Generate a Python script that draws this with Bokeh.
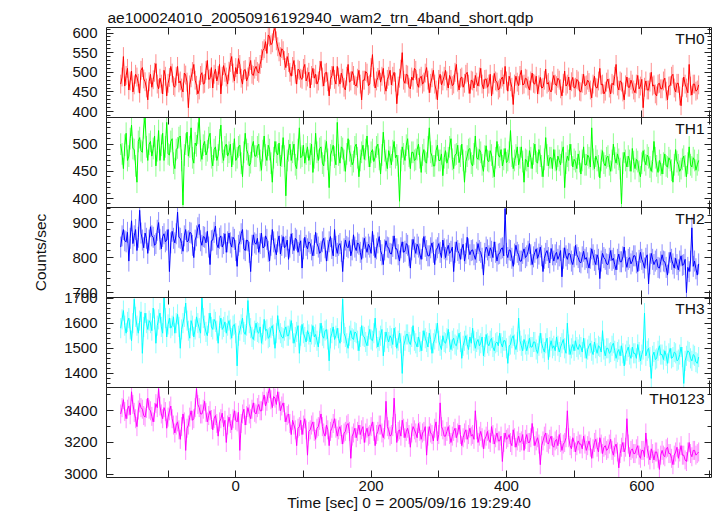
import numpy as np
from bokeh.plotting import figure
from bokeh.layouts import column
from bokeh.models import Range1d, SingleIntervalTicker, FixedTicker, LinearAxis, Label
from bokeh.embed import file_html
from bokeh.resources import INLINE

# ---------------- data (2 s bins) ----------------
bin_start = -170.0
bin_width = 2.0

th0 = [
    470, 488, 540, 465, 492, 510, 455, 478, 503, 450, 468, 495, 488, 472, 447, 505, 512, 483, 476, 460,
    430, 476, 495, 462, 481, 500, 522, 470, 458, 485, 470, 445, 505, 490, 440, 472, 487, 515, 498, 466,
    462, 490, 515, 473, 478, 460, 450, 498, 493, 475, 410, 468, 486, 502, 520, 480, 467, 445, 455, 492,
    499, 470, 472, 505, 530, 482, 484, 512, 460, 495, 508, 478, 492, 520, 445, 490, 517, 500, 488, 470,
    503, 525, 540, 498, 478, 512, 496, 535, 520, 485, 470, 505, 507, 478, 488, 515, 530, 495, 492, 508,
    515, 502, 498, 520, 535, 555, 560, 578, 548, 595, 590, 570, 575, 605, 612, 580, 565, 552, 540, 560,
    555, 530, 512, 540, 525, 500, 490, 515, 530, 495, 470, 508, 505, 485, 482, 510, 520, 478, 488, 500,
    460, 492, 510, 485, 495, 470, 478, 505, 528, 488, 465, 498, 500, 476, 440, 482, 492, 515, 482, 470,
    515, 488, 470, 498, 485, 462, 455, 490, 520, 475, 478, 502, 492, 468, 465, 485, 505, 470, 430, 480,
    480, 502, 498, 466, 470, 512, 545, 488, 460, 478, 487, 505, 475, 490, 510, 468, 452, 482, 490, 505,
    468, 490, 500, 475, 420, 465, 485, 508, 550, 480, 472, 495, 493, 462, 458, 488, 480, 510, 505, 472,
    462, 485, 490, 470, 475, 498, 512, 480, 448, 472, 486, 505, 470, 455, 430, 482, 495, 468, 478, 490,
    505, 478, 460, 492, 482, 466, 470, 500, 520, 475, 455, 485, 488, 462, 472, 495, 500, 470, 446, 480,
    478, 460, 492, 475, 465, 488, 510, 470, 458, 482, 483, 462, 470, 495, 440, 468, 497, 478, 475, 455,
    460, 482, 488, 470, 515, 478, 452, 490, 476, 462, 418, 470, 490, 475, 466, 492, 505, 468, 470, 485,
    483, 465, 455, 478, 498, 472, 470, 490, 445, 468, 487, 460, 462, 480, 508, 470, 474, 455, 450, 478,
    492, 470, 466, 485, 480, 458, 440, 472, 503, 465, 470, 488, 455, 476, 487, 460, 462, 482, 478, 452,
    450, 472, 495, 466, 468, 480, 474, 455, 435, 470, 490, 462, 460, 478, 510, 468, 470, 445, 452, 475,
    483, 460, 445, 472, 468, 490, 520, 465, 455, 478, 475, 450, 430, 468, 488, 462, 462, 480, 470, 455,
    448, 470, 492, 458, 465, 482, 410, 462, 478, 455, 455, 475, 500, 465, 468, 445, 440, 470, 472, 458,
    458, 478, 485, 452, 430, 465, 466, 490, 495, 460, 450, 472, 472, 440, 415, 462, 488, 470, 460, 448,
    520, 465, 442, 470, 470, 452, 455, 468,
]

th1 = [
    500, 482, 455, 498, 520, 470, 478, 510, 535, 492, 490, 460, 430, 505, 512, 488, 485, 530, 549, 495,
    470, 500, 505, 478, 492, 515, 460, 488, 525, 470, 498, 520, 470, 495, 540, 482, 480, 505, 510, 465,
    455, 490, 493, 512, 515, 470, 388, 480, 500, 522, 478, 495, 530, 475, 465, 502, 497, 520, 549, 488,
    472, 498, 505, 480, 488, 512, 520, 475, 460, 490, 495, 470, 480, 508, 535, 485, 470, 495, 500, 478,
    485, 500, 458, 482, 510, 470, 475, 495, 498, 465, 440, 485, 520, 490, 482, 460, 466, 495, 505, 478,
    478, 495, 500, 470, 452, 488, 515, 480, 470, 498, 490, 465, 430, 475, 505, 485, 480, 502, 460, 478,
    512, 478, 405, 470, 488, 500, 470, 485, 500, 462, 455, 490, 530, 475, 478, 498, 465, 482, 495, 470,
    482, 500, 448, 475, 520, 485, 470, 492, 495, 465, 460, 488, 505, 472, 420, 480, 488, 498, 476, 462,
    540, 480, 465, 495, 492, 470, 450, 482, 510, 488, 478, 462, 468, 495, 500, 475, 440, 470, 485, 498,
    472, 490, 515, 478, 458, 485, 490, 468, 476, 495, 500, 472, 445, 480, 522, 488, 470, 455, 488, 476,
    462, 488, 505, 475, 480, 460, 395, 470, 495, 482, 470, 498, 510, 478, 455, 485, 485, 470, 472, 490,
    500, 475, 448, 480, 490, 468, 465, 495, 530, 485, 478, 460, 460, 488, 498, 470, 470, 482, 442, 475,
    488, 465, 475, 495, 510, 472, 455, 480, 482, 498, 466, 478, 500, 470, 430, 468, 478, 490, 492, 465,
    460, 482, 515, 475, 472, 490, 485, 462, 450, 478, 497, 470, 468, 488, 480, 458, 440, 475, 505, 480,
    476, 490, 460, 472, 492, 466, 470, 485, 525, 478, 455, 470, 480, 495, 462, 475, 495, 468, 430, 472,
    470, 458, 488, 475, 455, 482, 500, 468, 465, 490, 478, 460, 440, 472, 512, 480, 460, 475, 475, 455,
    490, 470, 452, 478, 470, 462, 485, 495, 420, 465, 478, 470, 500, 480, 458, 472, 468, 455, 482, 468,
    445, 470, 495, 462, 462, 480, 475, 458, 530, 472, 455, 478, 470, 460, 438, 470, 488, 465, 460, 475,
    478, 462, 450, 470, 500, 475, 465, 482, 472, 455, 390, 465, 485, 470, 458, 478, 470, 450, 492, 468,
    455, 472, 468, 450, 440, 465, 488, 470, 462, 480, 475, 458, 450, 468, 505, 475, 460, 448, 470, 462,
    445, 465, 482, 460, 458, 475, 470, 452, 430, 462, 490, 468, 462, 450, 455, 472, 478, 460, 440, 465,
    495, 462, 458, 475, 470, 452, 462, 470,
]

th2 = [
    830, 862, 880, 848, 845, 872, 790, 855, 905, 840, 862, 880, 820, 858, 935, 870, 850, 828, 870, 855,
    812, 850, 888, 862, 858, 835, 840, 878, 900, 852, 825, 860, 868, 845, 850, 880, 760, 842, 875, 855,
    842, 868, 930, 858, 855, 840, 818, 862, 880, 845, 848, 872, 870, 835, 800, 850, 862, 885, 895, 848,
    835, 860, 858, 842, 875, 830, 780, 848, 850, 872, 890, 838, 828, 855, 862, 830, 840, 868, 815, 845,
    870, 842, 830, 858, 852, 820, 775, 835, 845, 868, 880, 825, 820, 850, 848, 815, 760, 835, 865, 842,
    838, 855, 815, 840, 870, 828, 830, 862, 852, 818, 790, 835, 880, 845, 825, 808, 845, 862, 810, 835,
    860, 828, 832, 850, 795, 830, 868, 840, 820, 855, 850, 815, 835, 848, 770, 825, 858, 835, 825, 845,
    840, 822, 805, 835, 872, 840, 830, 812, 818, 845, 855, 828, 790, 820, 845, 860, 826, 805, 880, 832,
    812, 835, 840, 818, 760, 825, 850, 832, 828, 848, 805, 822, 865, 830, 820, 842, 838, 815, 795, 828,
    855, 830, 815, 838, 830, 812, 875, 835, 800, 825, 842, 860, 820, 808, 780, 822, 848, 830, 828, 812,
    810, 832, 862, 825, 825, 808, 790, 828, 845, 815, 818, 840, 835, 805, 770, 822, 852, 830, 812, 838,
    830, 810, 795, 825, 860, 832, 820, 805, 805, 828, 842, 815, 780, 822, 828, 840, 815, 800, 850, 825,
    800, 822, 835, 812, 818, 830, 760, 815, 845, 820, 812, 795, 825, 838, 790, 812, 858, 825, 808, 820,
    822, 808, 795, 815, 840, 820, 815, 798, 750, 812, 830, 822, 805, 828, 818, 800, 845, 815, 790, 810,
    812, 825, 828, 805, 940, 812, 800, 822, 820, 798, 775, 810, 835, 815, 808, 790, 790, 812, 825, 800,
    805, 818, 840, 808, 780, 802, 815, 825, 798, 810, 830, 805, 760, 798, 812, 820, 800, 785, 826, 808,
    790, 808, 815, 795, 805, 820, 745, 798, 828, 805, 795, 812, 810, 790, 780, 802, 835, 808, 800, 788,
    785, 802, 818, 795, 800, 785, 770, 798, 825, 808, 792, 780, 808, 795, 740, 790, 812, 800, 795, 782,
    780, 798, 820, 792, 798, 780, 765, 795, 810, 788, 788, 802, 830, 790, 772, 795, 800, 782, 790, 805,
    805, 785, 760, 792, 815, 795, 785, 770, 798, 808, 725, 782, 812, 795, 780, 790, 795, 772, 770, 788,
    808, 790, 788, 772, 750, 785, 815, 795, 782, 770, 798, 780, 765, 790, 805, 778, 780, 795, 700, 772,
    760, 790, 885, 775, 790, 768, 750, 782,
]

th3 = [
    1580, 1615, 1650, 1590, 1560, 1605, 1620, 1575, 1530, 1600, 1695, 1625, 1590, 1560, 1610, 1645, 1480, 1585, 1640, 1600,
    1575, 1610, 1600, 1570, 1660, 1615, 1520, 1590, 1615, 1640, 1585, 1560, 1700, 1620, 1545, 1595, 1620, 1580, 1590, 1625,
    1560, 1600, 1635, 1585, 1500, 1575, 1600, 1625, 1680, 1610, 1570, 1540, 1610, 1590, 1545, 1575, 1625, 1600, 1580, 1560,
    1700, 1620, 1590, 1565, 1550, 1600, 1640, 1585, 1575, 1615, 1605, 1570, 1520, 1590, 1620, 1575, 1585, 1605, 1560, 1590,
    1610, 1575, 1540, 1590, 1595, 1560, 1430, 1550, 1570, 1595, 1620, 1565, 1555, 1590, 1690, 1600, 1580, 1545, 1535, 1570,
    1600, 1565, 1560, 1585, 1520, 1555, 1615, 1570, 1575, 1540, 1545, 1580, 1590, 1555, 1500, 1560, 1630, 1575, 1560, 1545,
    1540, 1570, 1585, 1550, 1550, 1575, 1610, 1560, 1520, 1545, 1565, 1590, 1480, 1550, 1595, 1560, 1545, 1525, 1570, 1555,
    1525, 1555, 1590, 1545, 1555, 1530, 1505, 1560, 1600, 1550, 1540, 1570, 1575, 1535, 1450, 1540, 1560, 1585, 1535, 1550,
    1580, 1540, 1520, 1565, 1695, 1560, 1545, 1520, 1500, 1550, 1570, 1540, 1535, 1565, 1560, 1530, 1490, 1545, 1590, 1550,
    1545, 1525, 1510, 1550, 1575, 1535, 1530, 1560, 1620, 1540, 1505, 1530, 1550, 1575, 1470, 1525, 1565, 1540, 1525, 1550,
    1540, 1515, 1580, 1545, 1500, 1530, 1560, 1520, 1400, 1510, 1530, 1555, 1555, 1525, 1515, 1545, 1590, 1530, 1520, 1505,
    1545, 1525, 1490, 1530, 1570, 1540, 1525, 1505, 1560, 1535, 1480, 1520, 1535, 1560, 1600, 1530, 1510, 1495, 1550, 1525,
    1520, 1540, 1575, 1525, 1495, 1530, 1540, 1515, 1510, 1535, 1560, 1525, 1460, 1510, 1530, 1550, 1515, 1495, 1545, 1520,
    1580, 1530, 1500, 1525, 1535, 1510, 1520, 1545, 1470, 1505, 1555, 1520, 1510, 1530, 1540, 1505, 1490, 1520, 1525, 1510,
    1560, 1520, 1505, 1530, 1530, 1500, 1440, 1510, 1515, 1540, 1550, 1515, 1495, 1525, 1620, 1530, 1510, 1490, 1535, 1515,
    1490, 1515, 1540, 1505, 1505, 1525, 1525, 1495, 1480, 1510, 1560, 1520, 1500, 1485, 1520, 1540, 1455, 1505, 1530, 1500,
    1510, 1490, 1545, 1510, 1485, 1505, 1520, 1535, 1500, 1480, 1600, 1515, 1475, 1500, 1515, 1490, 1530, 1505, 1495, 1515,
    1505, 1485, 1540, 1500, 1460, 1495, 1510, 1520, 1490, 1475, 1525, 1500, 1480, 1510, 1505, 1485, 1570, 1495, 1470, 1500,
    1500, 1480, 1485, 1510, 1520, 1490, 1460, 1485, 1495, 1470, 1510, 1480, 1430, 1475, 1490, 1505, 1475, 1460, 1505, 1480,
    1480, 1460, 1515, 1485, 1450, 1475, 1495, 1640, 1470, 1490, 1500, 1465, 1380, 1470, 1485, 1455, 1460, 1490, 1510, 1475,
    1475, 1455, 1490, 1470, 1440, 1480, 1500, 1460, 1465, 1485, 1480, 1450, 1455, 1475, 1505, 1465, 1360, 1450, 1470, 1490,
    1485, 1460, 1450, 1475, 1470, 1445, 1440, 1465,
]

th0123 = [
    3380, 3420, 3470, 3395, 3350, 3410, 3430, 3375, 3520, 3440, 3390, 3350, 3300, 3405, 3450, 3420, 3410, 3370, 3360, 3415,
    3480, 3410, 3400, 3365, 3330, 3390, 3445, 3420, 3540, 3430, 3380, 3350, 3420, 3395, 3290, 3360, 3400, 3430, 3350, 3310,
    3260, 3310, 3330, 3280, 3220, 3300, 3380, 3330, 3150, 3290, 3310, 3360, 3400, 3340, 3350, 3420, 3540, 3440, 3420, 3380,
    3380, 3410, 3460, 3390, 3330, 3370, 3400, 3345, 3280, 3350, 3370, 3320, 3240, 3330, 3350, 3385, 3300, 3340, 3200, 3310,
    3360, 3320, 3280, 3350, 3400, 3340, 3330, 3390, 3150, 3320, 3380, 3410, 3310, 3370, 3420, 3380, 3350, 3410, 3450, 3390,
    3380, 3420, 3440, 3400, 3400, 3460, 3500, 3430, 3460, 3510, 3540, 3470, 3420, 3490, 3480, 3440, 3520, 3460, 3400, 3430,
    3450, 3390, 3330, 3370, 3380, 3320, 3250, 3340, 3310, 3280, 3180, 3290, 3300, 3340, 3250, 3310, 3350, 3280, 3120, 3270,
    3280, 3310, 3330, 3270, 3220, 3290, 3300, 3340, 3380, 3300, 3260, 3240, 3310, 3280, 3180, 3270, 3290, 3320, 3350, 3290,
    3240, 3280, 3300, 3250, 3190, 3260, 3270, 3310, 3320, 3270, 3100, 3240, 3260, 3290, 3230, 3270, 3310, 3250, 3280, 3300,
    3200, 3260, 3290, 3240, 3250, 3300, 3330, 3270, 3180, 3250, 3270, 3310, 3310, 3260, 3230, 3280, 3460, 3300, 3280, 3240,
    3250, 3300, 3480, 3320, 3200, 3270, 3280, 3240, 3340, 3290, 3230, 3270, 3290, 3250, 3170, 3260, 3300, 3280, 3260, 3230,
    3320, 3270, 3220, 3260, 3270, 3300, 3120, 3240, 3300, 3260, 3250, 3210, 3290, 3330, 3210, 3250, 3450, 3300, 3280, 3240,
    3240, 3270, 3300, 3250, 3200, 3240, 3270, 3290, 3230, 3260, 3310, 3250, 3180, 3230, 3260, 3280, 3220, 3250, 3290, 3240,
    3250, 3220, 3400, 3280, 3200, 3240, 3270, 3230, 3160, 3220, 3240, 3270, 3220, 3200, 3300, 3250, 3190, 3230, 3260, 3210,
    3210, 3240, 3080, 3200, 3260, 3220, 3230, 3250, 3200, 3180, 3280, 3230, 3170, 3210, 3240, 3200, 3210, 3250, 3150, 3220,
    3250, 3200, 3200, 3230, 3320, 3240, 3180, 3210, 3230, 3190, 3060, 3180, 3210, 3240, 3260, 3200, 3190, 3220, 3240, 3180,
    3170, 3210, 3220, 3180, 3250, 3200, 3150, 3190, 3200, 3230, 3400, 3230, 3180, 3160, 3230, 3200, 3140, 3180, 3210, 3190,
    3190, 3160, 3240, 3190, 3150, 3180, 3210, 3170, 3100, 3160, 3200, 3220, 3170, 3140, 3230, 3190, 3130, 3170, 3180, 3150,
    3160, 3190, 3220, 3150, 3120, 3170, 3190, 3140, 3040, 3130, 3170, 3200, 3140, 3170, 3350, 3190, 3110, 3150, 3160, 3130,
    3130, 3160, 3180, 3120, 3100, 3150, 3150, 3110, 3260, 3160, 3120, 3090, 3160, 3130, 3090, 3140, 3140, 3100, 3030, 3120,
    3150, 3120, 3110, 3160, 3170, 3130, 3130, 3100, 3060, 3120, 3140, 3170, 3100, 3140, 3180, 3120, 3120, 3090, 3080, 3140,
    3200, 3130, 3110, 3150, 3150, 3120, 3130, 3140,
]

# error-bar half lengths (counts/sec) as read from the light fringes
th_errors = [24, 20, 30, 40, 60]

band_names = ["TH0", "TH1", "TH2", "TH3", "TH0123"]
x_tick_values = [-100, 0, 100, 200, 300, 400, 500, 600, 700]
x_tick_labelled = [0, 200, 400, 600]

title_text = "ae100024010_20050916192940_wam2_trn_4band_short.qdp"
x_label = "Time [sec] 0 = 2005/09/16 19:29:40"
y_label = "Counts/sec"

time = bin_start + bin_width * np.arange(len(th0))

# ---------------- styling ----------------
FONT = "Liberation Sans"
AX = "#222222"
TXT = "#111111"
series = [th0, th1, th2, th3, th0123]
colors = ["#ff0000", "#00ff00", "#0000ff", "#00ffff", "#ff00ff"]
y_ranges = [(385, 614), (383.5, 549), (686, 943), (1344, 1702), (2979, 3547)]
y_intervals = [(50, 5), (50, 5), (100, 5), (100, 5), (200, 2)]
X_RANGE = (-191, 703)
OVER = 12  # transparent overlap between stacked panels


def style_axis(ax, show_labels):
    ax.axis_line_color = AX
    ax.axis_line_width = 1
    ax.major_tick_line_color = AX
    ax.minor_tick_line_color = AX
    ax.major_tick_in = 7
    ax.major_tick_out = 0
    ax.minor_tick_in = 4
    ax.minor_tick_out = 0
    if show_labels:
        ax.major_label_text_font = FONT
        ax.major_label_text_font_size = "15px"
        ax.major_label_text_color = TXT
        ax.major_label_standoff = 9
    else:
        ax.major_label_text_font_size = "0px"
        ax.major_label_text_color = None
        ax.major_label_standoff = 0


figs = []
n = len(series)
for i in range(n):
    is_first = i == 0
    is_last = i == n - 1
    p = figure(
        frame_width=605, frame_height=90,
        x_range=Range1d(*X_RANGE), y_range=Range1d(*y_ranges[i]),
        output_backend="svg", toolbar_location=None,
        min_border_left=106, min_border_right=5,
        min_border_top=27 if is_first else OVER,
        min_border_bottom=0 if is_last else OVER,
    )
    if not is_first:
        p.styles = {"margin-top": f"-{2 * OVER}px"}
    p.xgrid.visible = False
    p.ygrid.visible = False
    p.outline_line_color = None
    p.background_fill_color = None
    p.border_fill_color = None

    iv, nm = y_intervals[i]
    p.yaxis.ticker = SingleIntervalTicker(interval=iv, num_minor_ticks=nm)
    for ax in p.yaxis:
        style_axis(ax, True)
    p.xaxis.ticker = FixedTicker(ticks=x_tick_values, minor_ticks=[])
    for ax in p.xaxis:
        style_axis(ax, is_last)
        if is_last:
            ax.major_label_overrides = {v: (str(v) if v in x_tick_labelled else "") for v in x_tick_values}
            ax.major_label_standoff = 3
            ax.axis_label = x_label
            ax.axis_label_text_font = FONT
            ax.axis_label_text_font_size = "15.5px"
            ax.axis_label_text_font_style = "normal"
            ax.axis_label_text_color = TXT
            ax.axis_label_standoff = 0
    if i == 2:
        for ax in p.yaxis:
            ax.axis_label = y_label
            ax.axis_label_text_font = FONT
            ax.axis_label_text_font_size = "15.5px"
            ax.axis_label_text_font_style = "normal"
            ax.axis_label_text_color = TXT
            ax.axis_label_standoff = 20

    top = LinearAxis(ticker=FixedTicker(ticks=x_tick_values, minor_ticks=[]))
    style_axis(top, False)
    p.add_layout(top, "above")
    right = LinearAxis(ticker=SingleIntervalTicker(interval=iv, num_minor_ticks=nm))
    style_axis(right, False)
    p.add_layout(right, "right")

    if is_first:
        p.title.text = title_text
        p.title.align = "left"
        p.title.text_font = FONT
        p.title.text_font_size = "15.5px"
        p.title.text_font_style = "normal"
        p.title.text_color = TXT
        p.title.standoff = 3
        p.title.offset = 1

    vals = np.asarray(series[i], dtype=float)
    err = th_errors[i]
    p.segment(x0=time, y0=vals - err, x1=time, y1=vals + err,
              line_color=colors[i], line_alpha=0.45, line_width=1)
    p.line(time, vals, line_color=colors[i], line_width=1)

    p.add_layout(Label(
        x=X_RANGE[1], y=y_ranges[i][1], x_offset=-7, y_offset=-2,
        text=band_names[i], text_align="right", text_baseline="top",
        text_font=FONT, text_font_size="15.5px", text_color=TXT,
    ))
    figs.append(p)

layout = column(*figs, spacing=0)

open("out.html", "w").write(file_html(layout, INLINE))
